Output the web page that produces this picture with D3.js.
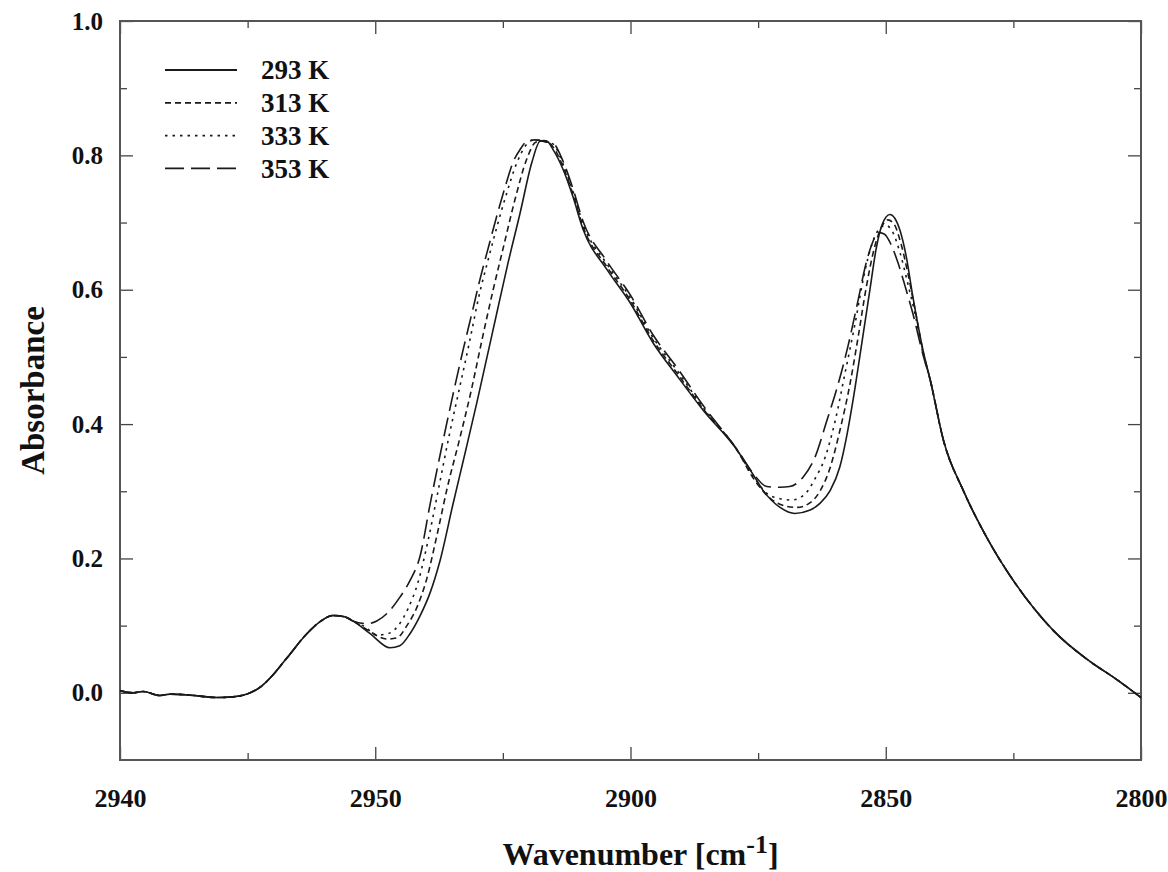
<!DOCTYPE html>
<html>
<head>
<meta charset="utf-8">
<script src="https://cdn.jsdelivr.net/npm/d3@7"></script>
<style>
  body { margin: 0; background: #fff; }
  svg { display: block; }
  text { font-family: "Liberation Serif", "Times New Roman", serif; font-weight: bold; fill: #111; }
</style>
</head>
<body>
<svg id="chart" width="1168" height="872"></svg>
<script>
// axis ticks (the original figure labels the 3000 position "2940")
const xMajorTicks = [3000, 2950, 2900, 2850, 2800];
const xTickLabels = ["2940", "2950", "2900", "2850", "2800"];
const xMinorTicks = [2975, 2925, 2875, 2825];
const yMajorTicks = [0, 0.2, 0.4, 0.6, 0.8, 1.0];
const yMinorTicks = [0.1, 0.3, 0.5, 0.7, 0.9];

const temperatures = ["293 K", "313 K", "333 K", "353 K"];

// [wavenumber, absorbance]
const sharedStart = [[3000,0.003],[2997.4,0.000],[2995.5,0.002],[2992.2,-0.004],[2990.2,-0.002],[2986.9,-0.003],
  [2981.0,-0.007],[2977.9,-0.006],[2974.5,0.000],[2972.6,0.008],[2970.6,0.022],[2967.3,0.052],[2963.4,0.088],
  [2960.8,0.106],[2958.3,0.115],[2955.9,0.113],[2954.4,0.107]];
const sharedEnd = [[2841.3,0.466],[2838.7,0.376],[2834.8,0.301],[2830.2,0.231],[2825.0,0.167],[2821.1,0.127],
  [2817.2,0.093],[2810.6,0.050],[2804.8,0.020],[2800,-0.007]];

const mid293 = [[2951.0,0.088],[2947.1,0.067],[2945.2,0.070],[2943.2,0.088],[2941.2,0.115],[2939.3,0.148],[2937.3,0.197],
  [2934.8,0.280],[2932.4,0.357],[2930.1,0.432],[2928.1,0.500],[2926.2,0.565],[2924.2,0.633],[2921.6,0.715],[2919.3,0.790],
  [2917.7,0.821],[2916.4,0.821],[2915.2,0.809],[2913.2,0.779],[2911.3,0.739],[2909.3,0.690],[2904.6,0.630],[2900.1,0.581],
  [2895.6,0.521],[2890.7,0.470],[2885.8,0.421],[2879.1,0.361],[2876.0,0.325],[2874.0,0.301],[2870.7,0.276],[2867.8,0.267],
  [2864.8,0.272],[2862.9,0.282],[2860.9,0.301],[2859.0,0.336],[2857.6,0.384],[2856.4,0.436],[2854.5,0.530],[2853.1,0.600],
  [2851.9,0.660],[2850.7,0.697],[2849.2,0.712],[2848.2,0.706],[2847.2,0.688],[2846.0,0.650],[2844.7,0.590],[2842.7,0.510]];

const mid313 = [[2951.4,0.093],[2947.7,0.080],[2945.7,0.082],[2943.8,0.100],[2941.8,0.128],[2939.9,0.170],[2937.9,0.235],
  [2935.9,0.305],[2933.4,0.380],[2931.2,0.450],[2929.1,0.525],[2926.9,0.600],[2925.0,0.660],[2922.6,0.735],[2920.3,0.795],
  [2918.5,0.820],[2916.9,0.822],[2915.2,0.813],[2913.2,0.783],[2911.3,0.743],[2909.3,0.694],[2904.6,0.634],[2900.1,0.585],
  [2895.6,0.525],[2890.7,0.474],[2885.8,0.423],[2879.1,0.361],[2876.0,0.320],[2872.7,0.290],[2869.7,0.278],[2867.4,0.276],
  [2864.8,0.283],[2862.9,0.300],[2860.9,0.335],[2859.0,0.390],[2857.0,0.460],[2855.4,0.530],[2853.9,0.600],[2852.3,0.660],
  [2850.7,0.695],[2849.6,0.704],[2848.4,0.698],[2847.0,0.668],[2845.6,0.622],[2844.3,0.572],[2842.7,0.508]];

const mid333 = [[2952.0,0.098],[2949.7,0.086],[2947.5,0.088],[2945.5,0.100],[2943.6,0.125],[2941.6,0.165],[2939.7,0.225],
  [2937.7,0.300],[2935.6,0.380],[2933.6,0.450],[2931.6,0.520],[2929.7,0.590],[2927.7,0.650],[2924.6,0.735],[2922.2,0.790],
  [2920.5,0.815],[2918.9,0.823],[2917.3,0.822],[2915.2,0.817],[2913.2,0.787],[2911.3,0.747],[2909.3,0.698],[2904.6,0.638],
  [2900.1,0.589],[2895.6,0.529],[2890.7,0.478],[2885.8,0.425],[2879.1,0.361],[2876.0,0.323],[2873.3,0.297],[2870.7,0.289],
  [2868.4,0.287],[2865.8,0.296],[2863.9,0.318],[2861.9,0.350],[2859.9,0.405],[2858.0,0.475],[2856.0,0.550],[2854.3,0.620],
  [2852.7,0.668],[2851.1,0.692],[2850.0,0.696],[2848.8,0.688],[2847.2,0.655],[2845.8,0.613],[2844.3,0.565],[2842.7,0.505]];

const mid353 = [[2951.6,0.103],[2949.7,0.107],[2947.7,0.118],[2945.2,0.142],[2943.2,0.167],[2941.2,0.204],[2939.3,0.279],
  [2937.3,0.354],[2935.0,0.436],[2932.8,0.510],[2931.0,0.567],[2929.5,0.615],[2927.7,0.667],[2926.0,0.715],[2924.4,0.757],
  [2923.0,0.790],[2921.6,0.809],[2920.3,0.821],[2918.7,0.823],[2916.7,0.820],[2915.2,0.818],[2913.2,0.791],[2911.3,0.751],
  [2909.3,0.702],[2904.6,0.642],[2900.1,0.593],[2895.6,0.533],[2890.7,0.482],[2885.8,0.428],[2879.1,0.362],[2876.0,0.327],
  [2873.3,0.307],[2870.7,0.306],[2868.8,0.307],[2866.2,0.321],[2863.9,0.350],[2861.5,0.406],[2859.5,0.455],[2857.4,0.516],
  [2855.4,0.585],[2853.9,0.638],[2852.7,0.668],[2851.5,0.685],[2850.3,0.683],[2849.0,0.668],[2847.6,0.640],[2846.2,0.605],
  [2844.7,0.565],[2842.7,0.503]];

const series = [
  sharedStart.concat(mid293, sharedEnd),
  sharedStart.concat(mid313, sharedEnd),
  sharedStart.concat(mid333, sharedEnd),
  sharedStart.concat(mid353, sharedEnd)
];
const dashes = [null, "6,4", "2.5,5", "19,7"];

const margin = {top: 21, right: 27, bottom: 112, left: 120};
const width = 1168 - margin.left - margin.right;
const height = 872 - margin.top - margin.bottom;

const svg = d3.select("#chart")
  .append("g")
  .attr("transform", "translate(" + margin.left + "," + margin.top + ")");

const x = d3.scaleLinear().domain([3000, 2800]).range([0, width]);
const y = d3.scaleLinear().domain([-0.1, 1.0]).range([height, 0]);

// ticks, all pointing inward
function ticksOnly(g) { g.select(".domain").remove(); g.selectAll("line").attr("stroke", "#444").attr("stroke-width", 1.3); }

svg.append("g").attr("transform", "translate(0," + height + ")")
  .call(d3.axisBottom(x).tickValues(xMajorTicks).tickSizeInner(-13).tickSizeOuter(0).tickPadding(29)
    .tickFormat((d, i) => xTickLabels[i]))
  .call(ticksOnly)
  .selectAll("text").attr("font-size", 26).attr("fill", "#111");
svg.append("g").attr("transform", "translate(0," + height + ")")
  .call(d3.axisBottom(x).tickValues(xMinorTicks).tickSizeInner(-7).tickSizeOuter(0).tickFormat(""))
  .call(ticksOnly);
svg.append("g")
  .call(d3.axisTop(x).tickValues(xMajorTicks).tickSizeInner(-13).tickSizeOuter(0).tickFormat(""))
  .call(ticksOnly);
svg.append("g")
  .call(d3.axisTop(x).tickValues(xMinorTicks).tickSizeInner(-7).tickSizeOuter(0).tickFormat(""))
  .call(ticksOnly);

svg.append("g")
  .call(d3.axisLeft(y).tickValues(yMajorTicks).tickSizeInner(-13).tickSizeOuter(0).tickPadding(17)
    .tickFormat(d3.format(".1f")))
  .call(ticksOnly)
  .selectAll("text").attr("font-size", 25).attr("fill", "#111");
svg.append("g")
  .call(d3.axisLeft(y).tickValues(yMinorTicks).tickSizeInner(-7).tickSizeOuter(0).tickFormat(""))
  .call(ticksOnly);
svg.append("g").attr("transform", "translate(" + width + ",0)")
  .call(d3.axisRight(y).tickValues(yMajorTicks).tickSizeInner(-13).tickSizeOuter(0).tickFormat(""))
  .call(ticksOnly);
svg.append("g").attr("transform", "translate(" + width + ",0)")
  .call(d3.axisRight(y).tickValues(yMinorTicks).tickSizeInner(-7).tickSizeOuter(0).tickFormat(""))
  .call(ticksOnly);

svg.selectAll("g.tick text").attr("font-family", "Liberation Serif, serif").attr("font-weight", "bold");

// frame
svg.append("rect")
  .attr("width", width).attr("height", height)
  .attr("fill", "none").attr("stroke", "#555").attr("stroke-width", 2);

// spectra
const line = d3.line()
  .x(d => x(d[0]))
  .y(d => y(d[1]))
  .curve(d3.curveMonotoneX);

svg.selectAll("path.spectrum")
  .data(series)
  .enter()
  .append("path")
    .attr("class", "spectrum")
    .attr("d", line)
    .attr("fill", "none")
    .attr("stroke", "#1a1a1a")
    .attr("stroke-width", 1.6)
    .attr("stroke-dasharray", (d, i) => dashes[i]);

// legend
const legend = svg.append("g").attr("transform", "translate(45,49)");
temperatures.forEach((t, i) => {
  legend.append("line")
    .attr("x1", 0).attr("x2", 72)
    .attr("y1", i * 32.8).attr("y2", i * 32.8)
    .attr("stroke", "#1a1a1a").attr("stroke-width", 1.8)
    .attr("stroke-dasharray", dashes[i]);
  legend.append("text")
    .attr("x", 96).attr("y", i * 32.8).attr("dy", "0.35em")
    .attr("font-size", 27)
    .text(t);
});

// axis titles
svg.append("text")
  .attr("transform", "translate(-76," + (height / 2) + ") rotate(-90)")
  .attr("text-anchor", "middle")
  .attr("font-size", 33)
  .text("Absorbance");

const xTitle = svg.append("text")
  .attr("x", width / 2 + 10)
  .attr("y", height + 105)
  .attr("text-anchor", "middle")
  .attr("font-size", 32);
xTitle.append("tspan").text("Wavenumber [cm");
xTitle.append("tspan").attr("dy", -12).attr("font-size", 26).text("-1");
xTitle.append("tspan").attr("dy", 12).text("]");
</script>
</body>
</html>
